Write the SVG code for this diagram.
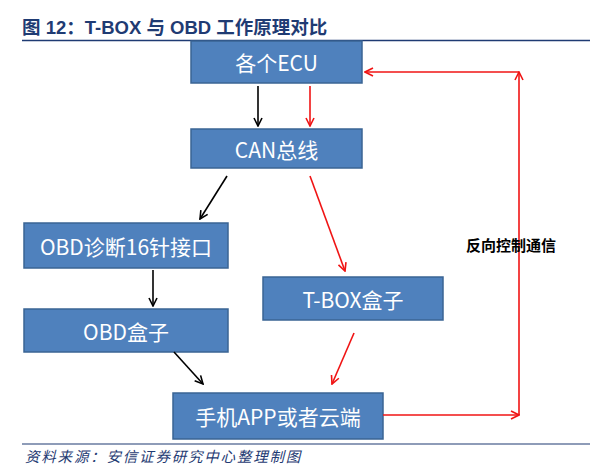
<svg xmlns="http://www.w3.org/2000/svg" width="590" height="471" viewBox="0 0 590 471">
<style>
.box{fill:#4f81bd;stroke:#3a6494;stroke-width:1.5}
.bt{fill:#ffffff;font-family:"Noto Sans CJK SC","Noto Sans",sans-serif;font-size:21px;text-anchor:middle;dominant-baseline:central}
.blk{stroke:#000;stroke-width:1.6;fill:none}
.red{stroke:#f01414;stroke-width:1.6;fill:none}
</style>
<defs>
<marker id="ab" viewBox="0 0 10 10" refX="9" refY="5" markerWidth="10" markerHeight="10" markerUnits="userSpaceOnUse" orient="auto"><path d="M1,1 L9,5 L1,9" fill="none" stroke="#000" stroke-width="1.6"/></marker>
<marker id="ar" viewBox="0 0 10 10" refX="9" refY="5" markerWidth="10" markerHeight="10" markerUnits="userSpaceOnUse" orient="auto"><path d="M1,1 L9,5 L1,9" fill="none" stroke="#f01414" stroke-width="1.6"/></marker>
</defs>
<rect width="590" height="471" fill="#fff"/>
<text x="22" y="34" font-family="'Liberation Sans','Noto Sans CJK SC',sans-serif" font-size="18.5" font-weight="bold" fill="#1f3b73">图 12：T-BOX 与 OBD 工作原理对比</text>
<line x1="22" y1="40.5" x2="590" y2="40.5" stroke="#1f3b73" stroke-width="1.5"/>
<g id="n-ecu"><rect class="box" x="191" y="41" width="171" height="42"/><text class="bt" x="276.5" y="62">各个ECU</text></g>
<g id="n-can"><rect class="box" x="191" y="129" width="171" height="39"/><text class="bt" x="276.5" y="148.5">CAN总线</text></g>
<g id="n-obdport"><rect class="box" x="24" y="223" width="204" height="45"/><text class="bt" x="126" y="245.5">OBD诊断16针接口</text></g>
<g id="n-obdbox"><rect class="box" x="24" y="309" width="204" height="43"/><text class="bt" x="126" y="330.5">OBD盒子</text></g>
<g id="n-tbox"><rect class="box" x="263" y="277" width="180" height="43"/><text class="bt" x="353" y="298.5">T-BOX盒子</text></g>
<g id="n-app"><rect class="box" x="173" y="393" width="210" height="46"/><text class="bt" x="278" y="416">手机APP或者云端</text></g>
<g id="connectors">
<line class="blk" x1="258" y1="86" x2="258" y2="126" marker-end="url(#ab)"/>
<line class="red" x1="310" y1="86" x2="310" y2="126" marker-end="url(#ar)"/>
<line class="blk" x1="227" y1="176" x2="200" y2="219" marker-end="url(#ab)"/>
<line class="red" x1="310" y1="176" x2="345" y2="271" marker-end="url(#ar)"/>
<line class="blk" x1="153" y1="270" x2="153" y2="306" marker-end="url(#ab)"/>
<line class="blk" x1="174" y1="352" x2="203" y2="384" marker-end="url(#ab)"/>
<line class="red" x1="354" y1="333" x2="332" y2="384" marker-end="url(#ar)"/>
<line class="red" x1="383" y1="415" x2="519" y2="415" marker-end="url(#ar)"/>
<line class="red" x1="519" y1="415" x2="519" y2="72" marker-end="url(#ar)"/>
<line class="red" x1="519" y1="72" x2="365" y2="72" marker-end="url(#ar)"/>
</g>
<text x="466" y="251" font-family="'Noto Sans CJK SC',sans-serif" font-size="15" font-weight="bold" fill="#000">反向控制通信</text>
<line x1="22" y1="444" x2="590" y2="444" stroke="#1f3b73" stroke-width="1.2"/>
<text x="25" y="462" font-family="'Noto Sans CJK SC',sans-serif" font-size="14.5" font-style="italic" letter-spacing="1.8" fill="#1f3b73">资料来源：安信证券研究中心整理制图</text>
</svg>
